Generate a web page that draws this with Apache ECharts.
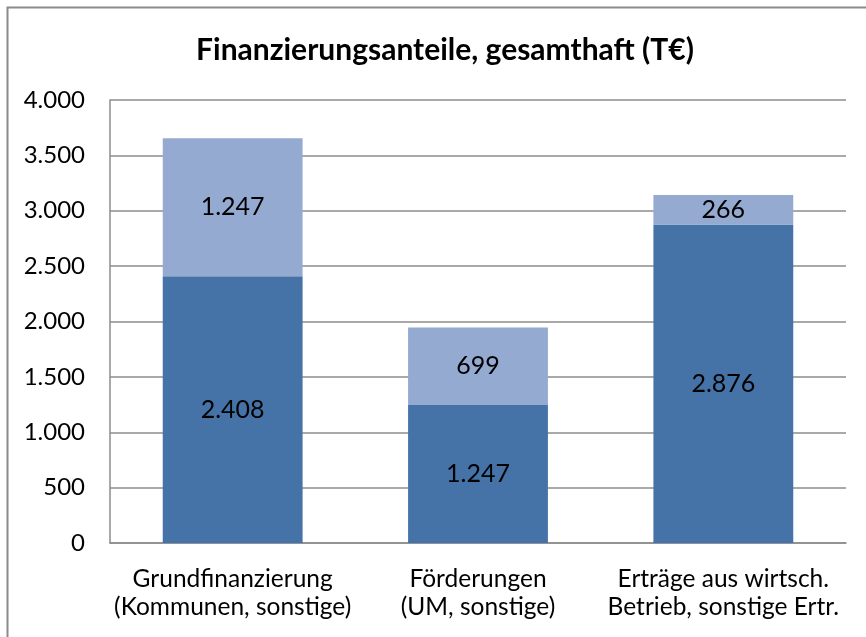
<!DOCTYPE html>
<html><head><meta charset="utf-8">
<script src="https://cdn.jsdelivr.net/npm/echarts@6/dist/echarts.min.js"></script>
<style>html,body{margin:0;padding:0;background:#fff}#c{width:866px;height:637px}</style>
</head><body><div id="c"></div>
<script>
const categories = ['Grundfinanzierung\n(Kommunen, sonstige)', 'Förderungen\n(UM, sonstige)', 'Erträge aus wirtsch.\nBetrieb, sonstige Ertr.'];
const baseValues = [2408, 1247, 2876];
const topValues = [1247, 699, 266];
const yTicks = [0, 500, 1000, 1500, 2000, 2500, 3000, 3500, 4000];

const FONT = 'Lato, "Open Sans", sans-serif';
const fmt = v => String(v).replace(/\B(?=(\d{3})+(?!\d))/g, '.');
const chart = echarts.init(document.getElementById('c'));
chart.setOption({
  animation: false,
  backgroundColor: '#fff',
  graphic: [{type:'rect', shape:{x:7.5,y:7.5,width:900,height:700}, style:{fill:'none',stroke:'#8a8a8a',lineWidth:2}, silent:true}],
  title: {text: 'Finanzierungsanteile, gesamthaft (T€)', left: 440, top: 30, textAlign: 'center',
    textStyle: {fontFamily: FONT, fontSize: 30, fontWeight: 'bold', color: '#000'}},
  grid: {left: 110, right: 20, top: 100, bottom: 94},
  xAxis: {type: 'category', data: categories,
    axisLine: {lineStyle: {color: '#8c8c8c', width: 1.5}}, axisTick: {show: false},
    axisLabel: {interval: 0, hideOverlap: false, fontFamily: FONT, fontSize: 24.5, color: '#000', lineHeight: 28, margin: 22}},
  yAxis: {type: 'value', min: 0, max: 4000, interval: 500,
    axisLine: {show: true, lineStyle: {color: '#8c8c8c', width: 1.5}}, axisTick: {show: false},
    splitLine: {lineStyle: {color: '#8c8c8c', width: 1.5}},
    axisLabel: {fontFamily: FONT, fontSize: 24, color: '#000', margin: 25, formatter: v => yTicks.includes(v) ? fmt(v) : ''}},
  series: [
    {type: 'bar', stack: 'a', data: baseValues, barWidth: '57%', itemStyle: {color: '#4573A7'},
      label: {show: true, position: 'inside', fontFamily: FONT, fontSize: 25, color: '#000', formatter: p => fmt(p.value)}},
    {type: 'bar', stack: 'a', data: topValues, barWidth: '57%', itemStyle: {color: '#94AAD1'},
      label: {show: true, position: 'inside', fontFamily: FONT, fontSize: 25, color: '#000', formatter: p => fmt(p.value)}}
  ]
});
</script></body></html>
